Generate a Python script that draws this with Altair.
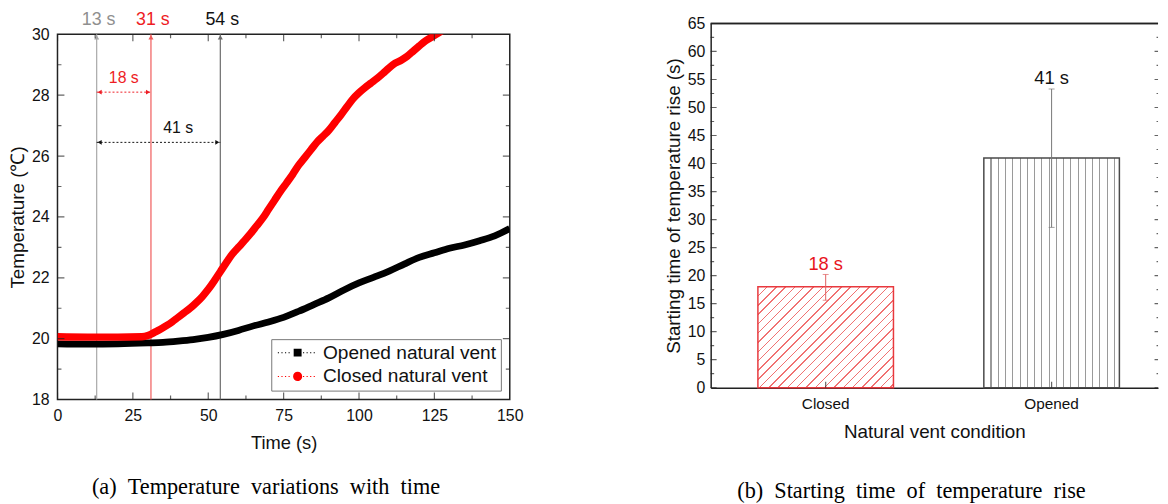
import altair as alt
import pandas as pd

FONT = "Liberation Sans"
SERIF = "Liberation Serif"

# ---------------- panel (a) values ----------------
opened_time = [0, 10, 20, 30, 35, 40, 45, 50, 55, 60, 65, 70, 75, 80, 85, 90, 95,
               100, 105, 110, 115, 120, 125, 130, 135, 140, 145, 150]
opened_temp = [19.83, 19.82, 19.83, 19.86, 19.88, 19.92, 19.97, 20.04, 20.14, 20.27,
               20.42, 20.55, 20.70, 20.90, 21.12, 21.34, 21.60, 21.83, 22.02, 22.22,
               22.45, 22.67, 22.82, 22.97, 23.08, 23.22, 23.38, 23.62]
closed_time = [0, 10, 20, 28, 30, 32, 34, 36, 38, 40, 42, 44, 46, 48, 50, 52, 54, 56,
               58, 60, 62, 64, 66, 68, 70, 72, 74, 76, 78, 80, 82, 84, 86, 88, 90, 92,
               94, 96, 98, 100, 102, 104, 106, 108, 110, 112, 114, 116, 118, 120, 122,
               124, 126, 128, 130]
closed_temp = [20.06, 20.05, 20.05, 20.06, 20.10, 20.20, 20.30, 20.42, 20.55, 20.70,
               20.85, 21.00, 21.18, 21.38, 21.62, 21.90, 22.20, 22.50, 22.78, 23.00,
               23.22, 23.45, 23.70, 23.95, 24.25, 24.55, 24.85, 25.12, 25.40, 25.70,
               25.95, 26.20, 26.45, 26.65, 26.85, 27.10, 27.35, 27.62, 27.88, 28.08,
               28.25, 28.40, 28.55, 28.72, 28.90, 29.05, 29.15, 29.28, 29.45, 29.62,
               29.78, 29.90, 30.02, 30.15, 30.30]
series_names = ["Opened natural vent", "Closed natural vent"]
series_colors = ["#000000", "#ff0000"]

marker_times = [13, 31, 54]
marker_labels = ["13 s", "31 s", "54 s"]
marker_text_colors = ["#8f8f8f", "#ee1c24", "#111111"]
marker_line_colors = ["#a8a8a8", "#f05a5a", "#6a6a6a"]

span_start = [13, 13]
span_end = [31, 54]
span_level = [28.1, 26.45]
span_label_x = [22, 40]
span_labels = ["18 s", "41 s"]
span_colors = ["#ee1c24", "#111111"]

time_ticks = [0, 25, 50, 75, 100, 125, 150]
time_minor = [12.5, 37.5, 62.5, 87.5, 112.5, 137.5]
temp_ticks = [18, 20, 22, 24, 26, 28, 30]
temp_minor = [19, 21, 23, 25, 27, 29]

# ---------------- panel (b) values ----------------
conditions = ["Closed", "Opened"]
start_time = [18, 41]
err_low = [15.6, 28.6]
err_high = [20.2, 53.3]
bar_labels = ["18 s", "41 s"]
bar_label_colors = ["#e8141c", "#111111"]
err_colors = ["#e06060", "#777777"]
y_ticks = [0, 5, 10, 15, 20, 25, 30, 35, 40, 45, 50, 55, 60, 65]
y_minor = [2.5, 7.5, 12.5, 17.5, 22.5, 27.5, 32.5, 37.5, 42.5, 47.5, 52.5, 57.5, 62.5]

# ---------------- sizes / styles ----------------
W1, H1 = 457, 369
W2, H2 = 452, 368
PAD_IN, PAD_OUT, BAND_ALIGN = 0.4, 0.19, 0.55
TICK = "#222222"
FRAME = "#222222"

xs = alt.Scale(domain=[0, 150], nice=False, zero=False)
ys = alt.Scale(domain=[18, 30], nice=False, zero=False)
xb = alt.Scale(domain=conditions, paddingInner=PAD_IN, paddingOuter=PAD_OUT, align=BAND_ALIGN)
yb = alt.Scale(domain=[0, 65], nice=False, zero=True)

# ---------- legend symbol paths (dotted line + marker) ----------
def dots(x0, x1, period=0.9, length=0.3, h=0.13):
    parts = []
    x = x0
    while x + length <= x1 + 1e-9:
        parts.append(f"M{x:.2f},{-h:.2f}h{length}v{2*h:.2f}h{-length}Z")
        x += period
    return "".join(parts)

line_part = dots(-5.0, -1.3) + dots(1.35, 5.0)
square_path = line_part + "M-1,-1H1V1H-1Z"
r = 1.15
circle_path = line_part + f"M{-r},0A{r},{r},0,1,0,{r},0A{r},{r},0,1,0,{-r},0Z"

# ---------- hatch fills ----------
def stripes(positions, half, color):
    stops = [alt.GradientStop(offset=0, color="white")]
    for c in positions:
        stops += [alt.GradientStop(offset=max(c - half, 0), color="white"),
                  alt.GradientStop(offset=max(c - half, 0), color=color),
                  alt.GradientStop(offset=min(c + half, 1), color=color),
                  alt.GradientStop(offset=min(c + half, 1), color="white")]
    stops.append(alt.GradientStop(offset=1, color="white"))
    return stops

step = W2 / (len(conditions) - PAD_IN + 2 * PAD_OUT)
bar_w = step * (1 - PAD_IN)

v_sp = 7.33
v_pos = []
k = 1
while k * v_sp < bar_w - 2:
    v_pos.append(k * v_sp / bar_w)
    k += 1
fill_opened = alt.LinearGradient(gradient="linear", x1=0, y1=0, x2=1, y2=0,
                                 stops=stripes(v_pos, 0.6 / bar_w, "#9a9a9a"))

h_closed = start_time[0] / 65 * H2
kk = h_closed / bar_w
aa = (1 + kk) / (1 + kk * kk)
tot = bar_w + h_closed
d_sp = 9.4
d_pos = []
j = 1
while j * d_sp < tot - 2:
    d_pos.append(j * d_sp / tot)
    j += 1
fill_closed = alt.LinearGradient(gradient="linear", x1=0, y1=0, x2=aa, y2=aa * kk,
                                 stops=stripes(d_pos, 0.75 / tot, "#f07272"))

# ================= panel (a) =================
df_open = pd.DataFrame({"t": opened_time, "T": opened_temp, "series": series_names[0]})
df_closed = pd.DataFrame({"t": closed_time, "T": closed_temp, "series": series_names[1]})
df_all = pd.concat([df_open, df_closed], ignore_index=True)

x_axis_a = alt.Axis(values=time_ticks, title="Time (s)", labelFontSize=16, titleFontSize=18.5,
                    ticks=False, domain=False, grid=False, labelPadding=8, titleY=43,
                    titleBaseline="middle", labelFlush=False, titleFontWeight="normal")
y_axis_a = alt.Axis(values=temp_ticks, title="Temperature (℃)", labelFontSize=16, titleFontSize=19,
                    ticks=False, domain=False, grid=False, labelPadding=8.5, titleX=-40,
                    titleBaseline="middle", titleFontWeight="normal")

def XA(field):
    return alt.X(field, type="quantitative", scale=xs, axis=x_axis_a)

def YA(field):
    return alt.Y(field, type="quantitative", scale=ys, axis=y_axis_a)

def XAd(v):
    return alt.XDatum(v, scale=xs, axis=x_axis_a)

def YAd(v):
    return alt.YDatum(v, scale=ys, axis=y_axis_a)

df_mark = pd.DataFrame({"t": marker_times, "lab": marker_labels,
                        "tc": marker_text_colors, "lc": marker_line_colors})
vlines = alt.Chart(df_mark).mark_rule(strokeWidth=1.2).encode(
    x=XA("t"), color=alt.Color("lc:N", scale=None))
vheads = alt.Chart(df_mark).mark_point(shape="triangle-up", filled=True, size=26, opacity=1,
                                       yOffset=3).encode(
    x=XA("t"), y=YAd(30), color=alt.Color("lc:N", scale=None))

# label strip above panel (a), sharing its time scale
strip = alt.Chart(df_mark).mark_text(fontSize=18, dy=-3, dx=2, font=FONT).encode(
    x=alt.X("t:Q", scale=xs, axis=None), y=alt.value(0), text="lab:N",
    color=alt.Color("tc:N", scale=None)).properties(
    width=W1, height=1, view=alt.ViewBackground(stroke="transparent"))

df_span = pd.DataFrame({"a": span_start, "b": span_end, "y": span_level, "lx": span_label_x,
                        "lab": span_labels, "c": span_colors})
span_rule = alt.Chart(df_span).mark_rule(strokeDash=[2, 2], strokeWidth=1).encode(
    x=XA("a"), x2="b:Q", y=YA("y"), color=alt.Color("c:N", scale=None))
span_left = alt.Chart(df_span).mark_point(shape="triangle-left", filled=True, size=22, opacity=1,
                                          xOffset=3).encode(
    x=XA("a"), y=YA("y"), color=alt.Color("c:N", scale=None))
span_right = alt.Chart(df_span).mark_point(shape="triangle-right", filled=True, size=22, opacity=1,
                                           xOffset=-3).encode(
    x=XA("b"), y=YA("y"), color=alt.Color("c:N", scale=None))
span_text = alt.Chart(df_span).mark_text(fontSize=16, dy=-14, font=FONT).encode(
    x=XA("lx"), y=YA("y"), text="lab:N", color=alt.Color("c:N", scale=None))

leg_kw = dict(title=None, orient="bottom-right", offset=9, padding=4, strokeColor="#777777",
              fillColor="white", labelFontSize=19.3, labelFont=FONT, labelColor="#111111",
              labelLimit=400, symbolSize=64, symbolOffset=13, labelOffset=16, rowPadding=4,
              symbolStrokeWidth=0)
legend_layer = alt.Chart(df_all).transform_filter("false").mark_point(
    filled=True, opacity=1).encode(
    x=XA("t"), y=YA("T"),
    color=alt.Color("series:N", scale=alt.Scale(domain=series_names, range=series_colors),
                    legend=alt.Legend(**leg_kw)),
    shape=alt.Shape("series:N", scale=alt.Scale(domain=series_names,
                                                range=[square_path, circle_path]),
                    legend=alt.Legend(**leg_kw)))

line_open = alt.Chart(df_open).mark_line(color="#000000", strokeWidth=6.8, clip=True,
                                         strokeJoin="round", interpolate="monotone").encode(
    x=XA("t"), y=YA("T"))
line_closed = alt.Chart(df_closed).mark_line(color="#ff0000", strokeWidth=7.5, clip=True,
                                             strokeJoin="round", interpolate="monotone").encode(
    x=XA("t"), y=YA("T"))

def a_xticks(values, edge, size):
    return alt.Chart(pd.DataFrame({"v": values})).mark_tick(
        orient="vertical", size=size, thickness=1.2, color=TICK, clip=True).encode(
        x=XA("v"), y=YAd(edge))

def a_yticks(values, edge, size):
    return alt.Chart(pd.DataFrame({"v": values})).mark_tick(
        orient="horizontal", size=size, thickness=1.2, color=TICK, clip=True).encode(
        y=YA("v"), x=XAd(edge))

ticks_a = [a_xticks(time_ticks, 18, 14), a_xticks(time_minor, 18, 8),
           a_xticks(time_ticks, 30, 14), a_xticks(time_minor, 30, 8),
           a_yticks(temp_ticks, 0, 14), a_yticks(temp_minor, 0, 8),
           a_yticks(temp_ticks, 150, 14), a_yticks(temp_minor, 150, 8)]

caption_a = alt.TitleParams(
    "(a)\u00a0\u00a0Temperature\u00a0\u00a0variations\u00a0\u00a0with\u00a0\u00a0time",
    orient="bottom", font=SERIF, fontSize=22.5, fontWeight="normal", color="#000000",
    offset=25, frame="bounds")

panel_a = alt.layer(vlines, span_rule, span_left, span_right, span_text, legend_layer,
                    line_open, line_closed, vheads, *ticks_a).properties(
    width=W1, height=H1, title=caption_a)

left_col = alt.vconcat(strip, panel_a, spacing=10, bounds="flush").resolve_scale(
    color="independent", shape="independent").resolve_legend(
    color="independent", shape="independent")

# ================= panel (b) =================
df_b = pd.DataFrame({"cond": conditions, "val": start_time, "lo": err_low, "hi": err_high,
                     "lab": bar_labels, "lc": bar_label_colors, "ec": err_colors})

x_axis_b = alt.Axis(title="Natural vent condition", labelFontSize=15.5, titleFontSize=19,
                    ticks=False, domain=True, domainColor=FRAME, domainWidth=1.5,
                    labelPadding=9, titleY=44, titleBaseline="middle",
                    labelAngle=0, titleFontWeight="normal")
y_axis_b = alt.Axis(values=y_ticks, title="Starting time of temperature rise (s)",
                    labelFontSize=16, titleFontSize=19, ticks=False, domain=True,
                    domainColor=FRAME, domainWidth=1.5, grid=False,
                    labelPadding=6, titleX=-38, titleBaseline="middle", titleFontWeight="normal")

def XB():
    return alt.X("cond:N", scale=xb, axis=x_axis_b)

def YB(field):
    return alt.Y(field, type="quantitative", scale=yb, axis=y_axis_b)

def YBd(v):
    return alt.YDatum(v, scale=yb, axis=y_axis_b)

bar_closed = alt.Chart(df_b).transform_filter(alt.datum.cond == conditions[0]).mark_bar(
    fill=fill_closed, stroke="#e8393e", strokeWidth=1.5).encode(x=XB(), y=YB("val"))
bar_opened = alt.Chart(df_b).transform_filter(alt.datum.cond == conditions[1]).mark_bar(
    fill=fill_opened, stroke="#4a4a4a", strokeWidth=1.5).encode(x=XB(), y=YB("val"))

err_rule = alt.Chart(df_b).mark_rule(strokeWidth=1).encode(
    x=XB(), y=YB("lo"), y2="hi:Q", color=alt.Color("ec:N", scale=None))
cap_lo = alt.Chart(df_b).mark_tick(orient="horizontal", size=6, thickness=1).encode(
    x=XB(), y=YB("lo"), color=alt.Color("ec:N", scale=None))
cap_hi = alt.Chart(df_b).mark_tick(orient="horizontal", size=6, thickness=1).encode(
    x=XB(), y=YB("hi"), color=alt.Color("ec:N", scale=None))
val_text = alt.Chart(df_b).mark_text(fontSize=18.5, dy=-11, font=FONT).encode(
    x=XB(), y=YB("hi"), text="lab:N", color=alt.Color("lc:N", scale=None))

# top frame line (the right edge of this panel lies past the picture edge)
top_line = alt.Chart(df_b).mark_rule(strokeWidth=1.5, color=FRAME).encode(y=YBd(65))

def b_yticks(values, xpix, size):
    return alt.Chart(pd.DataFrame({"v": values})).mark_tick(
        orient="horizontal", size=size, thickness=1.2, color=TICK, clip=True).encode(
        y=YB("v"), x=alt.value(xpix))

bottom_ticks = alt.Chart(df_b).mark_tick(orient="vertical", size=12, thickness=1.2, color=TICK,
                                         clip=True).encode(x=XB(), y=YBd(0))

ticks_b = [b_yticks(y_ticks, 0, 12), b_yticks(y_minor, 0, 7),
           b_yticks(y_ticks, W2, 7), b_yticks(y_minor, W2, 3), bottom_ticks]

caption_b = alt.TitleParams(
    "(b)\u00a0\u00a0Starting\u00a0\u00a0time\u00a0\u00a0of\u00a0\u00a0temperature\u00a0\u00a0rise",
    orient="bottom", font=SERIF, fontSize=22.5, fontWeight="normal", color="#000000",
    offset=40, frame="bounds")

panel_b = alt.layer(bar_closed, bar_opened, err_rule, cap_lo, cap_hi, val_text, top_line,
                    *ticks_b).properties(width=W2, height=H2, title=caption_b,
                                         view=alt.ViewBackground(stroke="transparent"))

chart = alt.hconcat(left_col, panel_b, spacing=140).resolve_scale(
    color="independent", shape="independent").resolve_legend(
    color="independent", shape="independent").properties(padding=0).configure_view(
    stroke=FRAME, strokeWidth=1.5).configure_axis(
    labelFont=FONT, titleFont=FONT, labelColor="#111111", titleColor="#111111").configure_text(
    font=FONT)

chart.save("out.html", embed_options={"renderer": "svg", "actions": False})
